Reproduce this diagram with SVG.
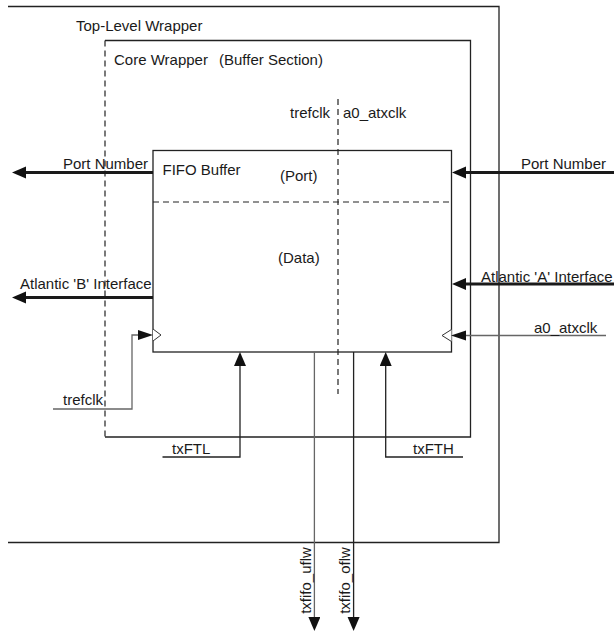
<svg xmlns="http://www.w3.org/2000/svg" width="614" height="632" viewBox="0 0 614 632">
<style>
text{font-family:"Liberation Sans",Arial,sans-serif;font-size:15px;fill:#1a1a1a}
.box{fill:none;stroke:#222;stroke-width:1.3}
.dash{fill:none;stroke:#222;stroke-width:1.2;stroke-dasharray:6 4}
.thick{fill:none;stroke:#1a1a1a;stroke-width:3.2}
.thin{fill:none;stroke:#222;stroke-width:1.3}
.gray{fill:none;stroke:#666;stroke-width:1.3}
.clk{fill:#fff;stroke:#333;stroke-width:1}
</style>
<defs>
<marker id="ah" markerUnits="userSpaceOnUse" markerWidth="16" markerHeight="14" refX="4" refY="6" orient="auto"><path d="M0,0 L14,6 L0,12 Z" fill="#111"/></marker>
<marker id="ahs" markerUnits="userSpaceOnUse" markerWidth="16" markerHeight="12" refX="4" refY="5" orient="auto"><path d="M0,0 L15,5 L0,10 Z" fill="#111"/></marker>
</defs>
<g id="top-level-wrapper">
<path class="box" d="M8,6.5 H499 V542.5 H8"/>
<text x="76" y="30.5">Top-Level Wrapper</text>
</g>
<g id="core-wrapper">
<path class="box" d="M105,40.5 H470.5 V437 H105"/>
<line class="dash" x1="105" y1="40.5" x2="105" y2="437"/>
<text y="64.5"><tspan x="114">Core Wrapper</tspan><tspan x="219">(Buffer Section)</tspan></text>
<line class="dash" x1="338" y1="99" x2="338" y2="394"/>
<text x="290" y="118">trefclk</text>
<text x="343" y="118">a0_atxclk</text>
</g>
<g id="fifo-buffer">
<rect class="box" x="153" y="150.5" width="298.5" height="201.5"/>
<line class="dash" x1="153" y1="202" x2="451.5" y2="202"/>
<text x="162.5" y="174.5">FIFO Buffer</text>
<text x="280" y="180.5">(Port)</text>
<text x="278" y="263">(Data)</text>
<path class="clk" d="M153,329 L161,335 L153,341"/>
<path class="clk" d="M451.5,329.5 L442,335.5 L451.5,341.5"/>
</g>
<g id="connectors">
<line class="thick" x1="153" y1="172.5" x2="22" y2="172.5" marker-end="url(#ah)"/>
<line class="thick" x1="614" y1="172.5" x2="462" y2="172.5" marker-end="url(#ah)"/>
<line class="thick" x1="153" y1="297.5" x2="22" y2="297.5" marker-end="url(#ah)"/>
<line class="thick" x1="614" y1="284" x2="462" y2="284" marker-end="url(#ah)"/>
<path class="gray" d="M53,409 H132 V335 H142" marker-end="url(#ahs)"/>
<line class="gray" x1="606" y1="335.5" x2="462" y2="335.5" marker-end="url(#ahs)"/>
<path class="thin" d="M162.5,457 H240 V362" marker-end="url(#ah)"/>
<path class="thin" d="M463,457 H385.7 V362" marker-end="url(#ah)"/>
<line class="gray" x1="314.4" y1="352" x2="314.4" y2="621" marker-end="url(#ah)"/>
<line class="thin" x1="353.6" y1="352" x2="353.6" y2="621" marker-end="url(#ah)"/>
</g>
<g id="port-labels">
<text x="63" y="168.5">Port Number</text>
<text x="521" y="168.5">Port Number</text>
<text x="20" y="288.5">Atlantic 'B' Interface</text>
<text x="481" y="281.5">Atlantic 'A' Interface</text>
<text x="534" y="333">a0_atxclk</text>
<text x="63" y="404.5">trefclk</text>
<text x="172" y="454">txFTL</text>
<text x="413" y="454">txFTH</text>
<text transform="translate(311,580.5) rotate(-90)" text-anchor="middle">txfifo_uflw</text>
<text transform="translate(350,580.5) rotate(-90)" text-anchor="middle">txfifo_oflw</text>
</g>
</svg>
